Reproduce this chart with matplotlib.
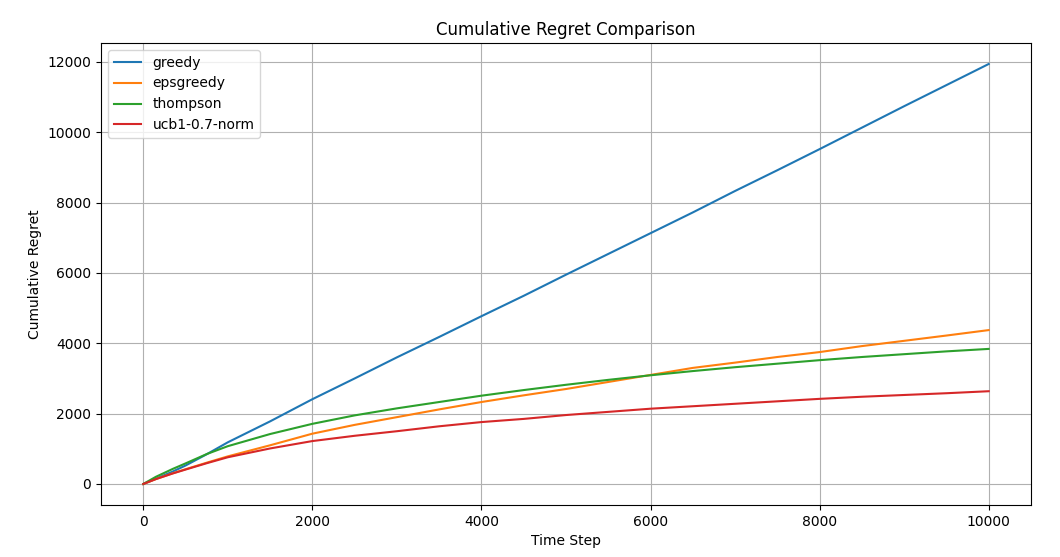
import matplotlib
matplotlib.use("Agg")
import matplotlib.pyplot as plt

steps = [0, 150, 350, 500, 750, 1000, 1500, 2000, 2500, 3000, 3500, 4000,
         4500, 5000, 5500, 6000, 6500, 7000, 7500, 8000, 8500, 9000, 9500,
         10000]

greedy = [0, 150, 355, 525, 845, 1185, 1780, 2410, 3000, 3600, 4180, 4770,
          5350, 5950, 6540, 7130, 7720, 8330, 8920, 9520, 10130, 10740, 11340,
          11940]
epsgreedy = [0, 140, 305, 420, 605, 785, 1100, 1430, 1680, 1900, 2120, 2330,
             2520, 2700, 2900, 3100, 3300, 3450, 3610, 3750, 3920, 4070, 4220,
             4375]
thompson = [0, 205, 430, 585, 850, 1075, 1420, 1710, 1950, 2150, 2330, 2510,
            2670, 2820, 2960, 3090, 3210, 3320, 3420, 3520, 3610, 3690, 3770,
            3840]
ucb = [0, 140, 300, 410, 590, 760, 1010, 1220, 1370, 1500, 1640, 1760, 1850,
       1960, 2050, 2140, 2210, 2280, 2350, 2420, 2480, 2530, 2580, 2637]

series = [("greedy", greedy), ("epsgreedy", epsgreedy),
          ("thompson", thompson), ("ucb1-0.7-norm", ucb)]

fig, ax = plt.subplots(figsize=(10.6, 5.57), dpi=100)
fig.subplots_adjust(left=0.0953, right=0.9726, top=0.9228, bottom=0.0934)
for name, vals in series:
    ax.plot(steps, vals, label=name)
ax.set_title("Cumulative Regret Comparison")
ax.set_xlabel("Time Step")
ax.set_ylabel("Cumulative Regret")
ax.grid(True)
ax.legend(loc="upper left")
fig.savefig("out.png", dpi=100)
